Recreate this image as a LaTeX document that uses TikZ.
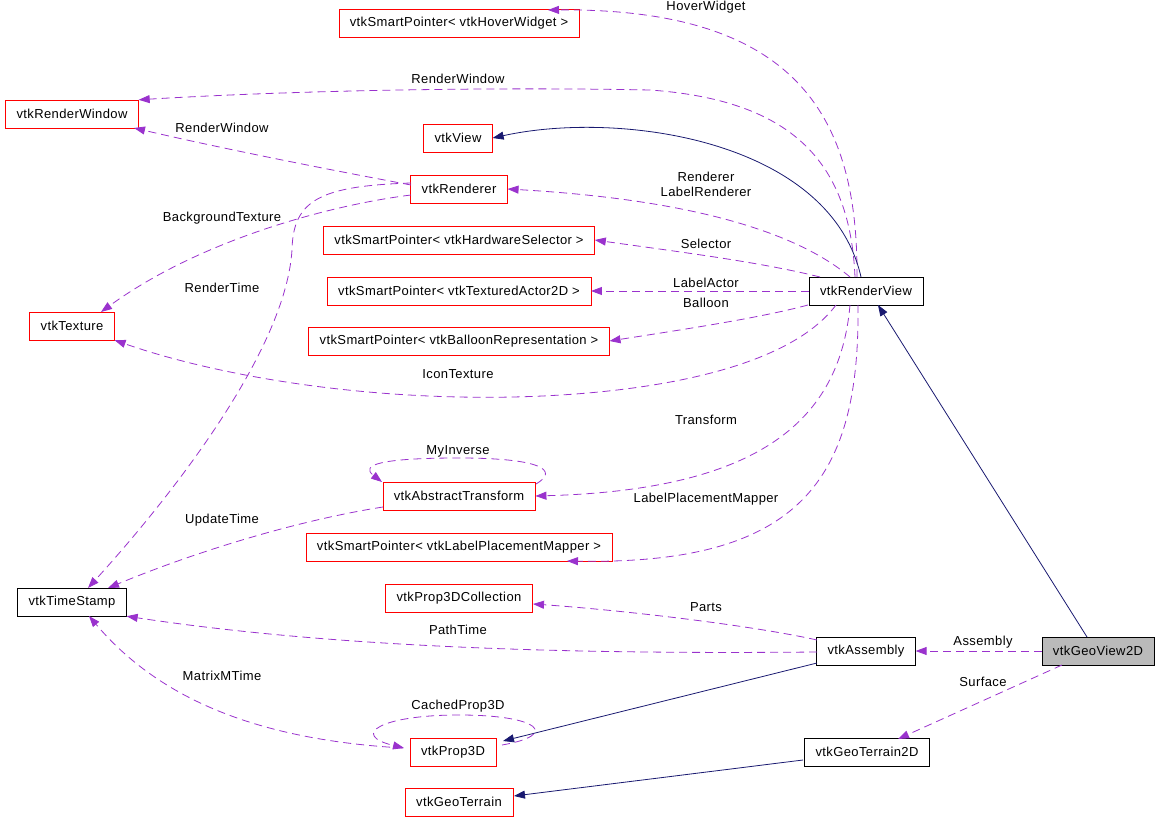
\documentclass[tikz,border=0pt]{standalone}
\usepackage{fontspec}
\usetikzlibrary{arrows.meta}
\newfontfamily\doxfont[LetterSpace=3]{Liberation Sans}
\definecolor{usecol}{HTML}{9A32CD}
\definecolor{inhcol}{HTML}{191970}
\tikzset{
  cls/.style={draw,rectangle,minimum height=28pt,inner xsep=11pt,inner ysep=0pt,font=\doxfont\fontsize{13}{15}\selectfont},
  redb/.style={draw=red},
  blkb/.style={draw=black},
  cur/.style={fill=black!27},
  lbl/.style={inner sep=0pt,font=\doxfont\fontsize{13}{15}\selectfont,align=center},
  usee/.style={draw=usecol,line width=0.8pt,dash pattern=on 8pt off 5pt,-{Triangle[length=11pt,width=8pt,fill=usecol]}},
  inhe/.style={draw=inhcol,line width=0.8pt,-{Triangle[length=11pt,width=8pt,fill=inhcol]}}
}
\begin{document}
\begin{tikzpicture}[x=1pt,y=-1pt]
\useasboundingbox (0,0) rectangle (1160,821);
% classes
\node[cls,redb] (hover) at (459,23) {vtkSmartPointer< vtkHoverWidget >};
\node[cls,redb] (rwin) at (72,114) {vtkRenderWindow};
\node[cls,redb] (view) at (458,138) {vtkView};
\node[cls,redb] (ren) at (459,189) {vtkRenderer};
\node[cls,redb] (hsel) at (459,240) {vtkSmartPointer< vtkHardwareSelector >};
\node[cls,redb] (tact) at (459,291) {vtkSmartPointer< vtkTexturedActor2D >};
\node[cls,redb] (brep) at (459,341) {vtkSmartPointer< vtkBalloonRepresentation >};
\node[cls,redb] (tex) at (72,326) {vtkTexture};
\node[cls,blkb] (rview) at (866,291) {vtkRenderView};
\node[cls,redb] (atr) at (459,496) {vtkAbstractTransform};
\node[cls,redb] (lpm) at (459,547) {vtkSmartPointer< vtkLabelPlacementMapper >};
\node[cls,blkb] (tstamp) at (72,602) {vtkTimeStamp};
\node[cls,redb] (pcoll) at (459,598) {vtkProp3DCollection};
\node[cls,blkb] (asm) at (866,651) {vtkAssembly};
\node[cls,blkb,cur] (gv2d) at (1098,651) {vtkGeoView2D};
\node[cls,redb] (prop) at (453,752) {vtkProp3D};
\node[cls,blkb] (gt2d) at (867,752) {vtkGeoTerrain2D};
\node[cls,redb] (gter) at (459,802) {vtkGeoTerrain};
% usage from vtkRenderView
\draw[usee] (857,277) .. controls (858,120) and (800,8) .. (548,10);
\draw[usee] (855,277) .. controls (850,160) and (790,100) .. (650,90) .. controls (500,87) and (300,90) .. (rwin.north east);
\draw[inhe] (861,277) .. controls (830,140) and (620,110) .. (view.east);
\draw[usee] (850,277) .. controls (800,235) and (700,200) .. (ren.east);
\draw[usee] (820,277) .. controls (760,262) and (680,252) .. (hsel.east);
\draw[usee] (rview.west) -- (tact.east);
\draw[usee] (808,305) .. controls (760,318) and (680,330) .. (brep.east);
\draw[usee] (836,305) .. controls (780,380) and (600,400) .. (459,397) .. controls (320,394) and (200,370) .. (tex.south east);
\draw[usee] (850,305) .. controls (840,420) and (760,490) .. (atr.east);
\draw[usee] (858,305) .. controls (860,480) and (800,565) .. (567,561);
% usage from vtkRenderer
\draw[usee] (411,185) .. controls (320,168) and (220,148) .. (134,128);
\draw[usee] (411,195) .. controls (330,205) and (200,240) .. (101,312);
\draw[usee] (411,183) .. controls (320,186) and (293,200) .. (292,250) .. controls (285,360) and (150,520) .. (88,588);
% vtkAbstractTransform
\draw[usee] (536,484) .. controls (560,470) and (540,458) .. (459,458) .. controls (380,458) and (360,465) .. (382,482);
\draw[usee] (383,507) .. controls (300,520) and (200,550) .. (108,588);
% vtkAssembly
\draw[usee] (817,640) .. controls (750,625) and (620,610) .. (533,604);
\draw[usee] (817,652) .. controls (600,654) and (350,650) .. (tstamp.south east);
\draw[inhe] (817,663) -- (503,741);
% vtkProp3D
\draw[usee] (403,748) .. controls (260,740) and (160,700) .. (89,616);
\draw[usee] (502,745) .. controls (560,735) and (540,715) .. (459,715) .. controls (380,715) and (350,735) .. (404,748);
% vtkGeoView2D
\draw[inhe] (1087,637) -- (878,305);
\draw[usee] (gv2d.west) -- (asm.east);
\draw[usee] (1062,665) -- (898,739);
\draw[inhe] (803,760) -- (514,796);
% edge labels
\node[lbl] (lhov) at (706,7) {HoverWidget};
\node[lbl] (lrw1) at (458,79) {RenderWindow};
\node[lbl] (lren) at (706,184) {Renderer\\LabelRenderer};
\node[lbl] (lsel) at (706,244) {Selector};
\node[lbl] (lact) at (706,283) {LabelActor};
\node[lbl] (lbal) at (706,303) {Balloon};
\node[lbl] (licn) at (458,374) {IconTexture};
\node[lbl] (ltrf) at (706,420) {Transform};
\node[lbl] (llpm) at (706,499) {LabelPlacementMapper};
\node[lbl] (lrw2) at (222,128) {RenderWindow};
\node[lbl] (lbgt) at (222,218) {BackgroundTexture};
\node[lbl] (lrt) at (222,288) {RenderTime};
\node[lbl] (linv) at (458,451) {MyInverse};
\node[lbl] (lupd) at (222,520) {UpdateTime};
\node[lbl] (lprt) at (706,607) {Parts};
\node[lbl] (lpth) at (458,630) {PathTime};
\node[lbl] (lmmt) at (222,676) {MatrixMTime};
\node[lbl] (lcpd) at (458,706) {CachedProp3D};
\node[lbl] (lasm) at (983,642) {Assembly};
\node[lbl] (lsrf) at (983,682) {Surface};
\end{tikzpicture}
\end{document}
